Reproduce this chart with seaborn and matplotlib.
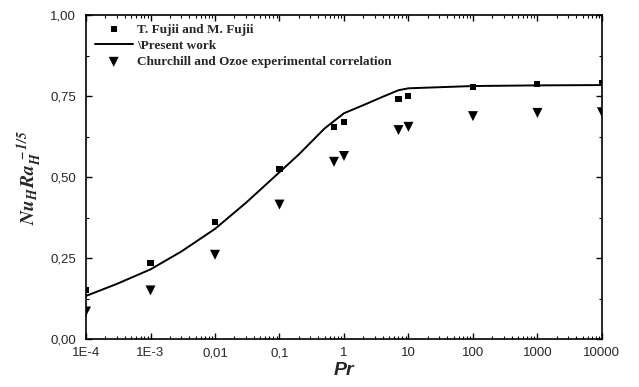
import matplotlib
matplotlib.use('Agg')
import matplotlib.pyplot as plt
import matplotlib.ticker as mticker
import pandas as pd
import seaborn as sns

# data
pr_points = [1e-4, 1e-3, 0.01, 0.1, 0.7, 1, 7, 10, 100, 1000, 10000]
fujii = [0.150, 0.236, 0.362, 0.525, 0.655, 0.670, 0.742, 0.750, 0.778, 0.787, 0.790]
churchill = [0.085, 0.150, 0.260, 0.415, 0.547, 0.565, 0.645, 0.655, 0.688, 0.698, 0.700]

pr_line = [1e-4, 3e-4, 1e-3, 3e-3, 0.01, 0.03, 0.1, 0.2, 0.5, 1, 2, 4, 7, 10, 100, 1000, 10000]
present = [0.133, 0.170, 0.215, 0.270, 0.340, 0.420, 0.515, 0.570, 0.650, 0.697,
           0.722, 0.748, 0.768, 0.774, 0.781, 0.783, 0.784]

x_ticks = [1e-4, 1e-3, 0.01, 0.1, 1, 10, 100, 1000, 10000]
x_labels = ['1E-4', '1E-3', '0,01', '0,1', '1', '10', '100', '1000', '10000']
y_ticks = [0, 0.25, 0.5, 0.75, 1.0]
y_labels = ['0,00', '0,25', '0,50', '0,75', '1,00']

pts = pd.DataFrame({'Pr': pr_points, 'fujii': fujii, 'churchill': churchill})
line = pd.DataFrame({'Pr': pr_line, 'present': present})

sns.set_style('ticks')
plt.rcParams['font.family'] = ['Liberation Sans', 'DejaVu Sans']
plt.rcParams['mathtext.fontset'] = 'stix'

fig = plt.figure(figsize=(6.39, 3.87), dpi=100)
ax = fig.add_axes([0.1346, 0.124, 0.8074, 0.837])

sns.scatterplot(data=pts, x='Pr', y='fujii', ax=ax, marker='s', s=19, color='black',
                edgecolor='none', label='T. Fujii and M. Fujii', zorder=3)
sns.lineplot(data=line, x='Pr', y='present', ax=ax, color='black', linewidth=1.4,
             label='\\Present work', zorder=2)
sns.scatterplot(data=pts, x='Pr', y='churchill', ax=ax, marker='v', s=52, color='black',
                edgecolor='none', label='Churchill and Ozoe experimental correlation', zorder=3)

ax.set_xscale('log')
ax.set_xlim(1e-4, 1e4)
ax.set_ylim(0, 1.0)
ax.set_xticks(x_ticks)
ax.set_xticklabels(x_labels)
ax.xaxis.set_minor_locator(mticker.LogLocator(base=10, subs=range(2, 10), numticks=20))
ax.xaxis.set_minor_formatter(mticker.NullFormatter())
ax.set_yticks(y_ticks)
ax.set_yticklabels(y_labels)
ax.yaxis.set_minor_locator(mticker.MultipleLocator(0.125))

ax.tick_params(which='both', direction='in', top=True, right=True, labelsize=9.5, color='black')
ax.tick_params(which='major', length=4.5, width=1)
ax.tick_params(which='minor', length=2.5, width=0.8)
ax.tick_params(axis='x', which='major', pad=6)
ax.tick_params(axis='y', which='major', pad=7)
for s in ax.spines.values():
    s.set_linewidth(1.2)
    s.set_color('black')

ax.set_xlabel('Pr', fontsize=14, fontweight='bold', style='italic', labelpad=2)
ax.set_ylabel(r'$\mathbfit{Nu_H Ra_H^{\ -1/5}}$', fontsize=14, labelpad=5)

leg = ax.legend(loc='upper left', frameon=False, handlelength=2.9, handletextpad=0.35,
                labelspacing=0.3, borderaxespad=0.3, borderpad=0.35,
                prop={'family': 'Liberation Serif', 'weight': 'bold', 'size': 9.5})

fig.savefig('out.png', dpi=100)
